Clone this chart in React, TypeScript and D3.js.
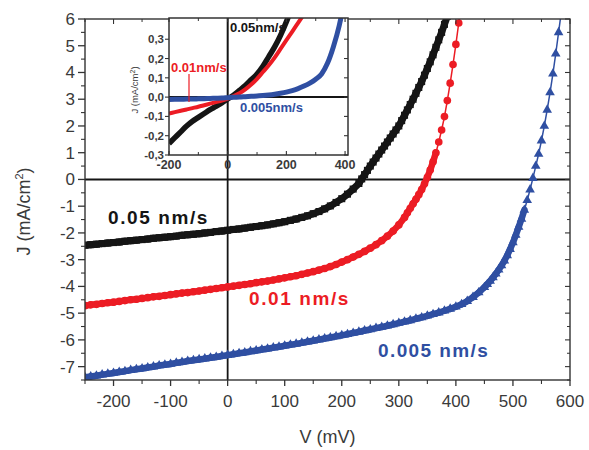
import React from 'react';
import * as d3 from 'd3';

const W = 589;
const H = 450;

// ---------- main plot data (V in mV, J in mA/cm2) ----------
const V_BLACK = [-250,-240,-230,-220,-210,-200,-190,-180,-170,-160,-150,-140,-130,-120,-110,-100,-90,-80,-70,-60,-50,-40,-30,-20,-10,0,10,20,30,40,50,60,70,80,90,100,110,120,130,140,150,160,170,180,190,200,210,220,230,
  235,240,245,250,255,260,265,270,275,280,285,290,295,300,305,310,315,320,325,330,335,340,345,350,355,360,365,370,375,380,385];
const J_BLACK = [-2.46,-2.44,-2.42,-2.40,-2.38,-2.36,-2.34,-2.31,-2.29,-2.27,-2.25,-2.23,-2.20,-2.18,-2.16,-2.14,-2.12,-2.09,-2.07,-2.05,-2.03,-2.00,-1.98,-1.95,-1.93,-1.90,-1.87,-1.85,-1.82,-1.79,-1.76,-1.73,-1.70,-1.66,-1.62,-1.58,-1.53,-1.48,-1.42,-1.36,-1.28,-1.20,-1.10,-0.99,-0.86,-0.72,-0.55,-0.36,-0.15,
  0.02,0.18,0.34,0.5,0.65,0.8,0.95,1.1,1.25,1.4,1.55,1.7,1.85,2.0,2.2,2.4,2.6,2.8,3.0,3.22,3.44,3.66,3.9,4.15,4.4,4.66,4.94,5.22,5.5,5.8,6.1];

const V_RED = [-250,-240,-230,-220,-210,-200,-190,-180,-170,-160,-150,-140,-130,-120,-110,-100,-90,-80,-70,-60,-50,-40,-30,-20,-10,0,10,20,30,40,50,60,70,80,90,100,110,120,130,140,150,160,170,180,190,200,210,220,230,240,250,260,270,280,290,300,310,
  315,320,325,330,335,340,345,350,355,360,365,370,375,380,385,390,395,400,405,410];
const J_RED = [-4.72,-4.69,-4.67,-4.64,-4.61,-4.59,-4.56,-4.53,-4.50,-4.48,-4.45,-4.42,-4.39,-4.37,-4.34,-4.31,-4.28,-4.25,-4.23,-4.20,-4.17,-4.14,-4.11,-4.08,-4.05,-4.02,-3.99,-3.96,-3.93,-3.90,-3.86,-3.83,-3.80,-3.76,-3.72,-3.68,-3.64,-3.60,-3.55,-3.50,-3.45,-3.39,-3.33,-3.26,-3.18,-3.09,-3.00,-2.90,-2.80,-2.69,-2.57,-2.44,-2.29,-2.12,-1.93,-1.70,-1.42,
  -1.25,-1.08,-0.91,-0.74,-0.57,-0.38,-0.16,0.08,0.35,0.66,1.0,1.4,1.85,2.35,2.95,3.6,4.3,5.05,5.85,6.7];

const V_BLUE = [-250,-240,-230,-220,-210,-200,-190,-180,-170,-160,-150,-140,-130,-120,-110,-100,-90,-80,-70,-60,-50,-40,-30,-20,-10,0,10,20,30,40,50,60,70,80,90,100,110,120,130,140,150,160,170,180,190,200,210,220,230,240,250,260,270,280,290,300,310,320,330,340,350,360,370,380,390,400,410,420,430,440,450,
  455,460,465,470,475,480,485,490,495,500,505,510,515,520,525,530,535,540,545,550,555,560,565,570,575,580,585];
const J_BLUE = [-7.40,-7.37,-7.34,-7.30,-7.27,-7.24,-7.20,-7.17,-7.13,-7.10,-7.07,-7.03,-7.00,-6.96,-6.93,-6.90,-6.86,-6.83,-6.79,-6.76,-6.73,-6.70,-6.67,-6.64,-6.60,-6.57,-6.54,-6.50,-6.47,-6.43,-6.40,-6.36,-6.33,-6.29,-6.26,-6.22,-6.18,-6.15,-6.11,-6.07,-6.03,-5.99,-5.95,-5.91,-5.87,-5.83,-5.79,-5.74,-5.70,-5.65,-5.61,-5.56,-5.52,-5.47,-5.42,-5.37,-5.32,-5.27,-5.21,-5.16,-5.10,-5.04,-4.98,-4.91,-4.84,-4.76,-4.67,-4.55,-4.40,-4.23,-4.03,
  -3.92,-3.80,-3.67,-3.53,-3.38,-3.22,-3.04,-2.84,-2.61,-2.36,-2.08,-1.78,-1.48,-1.14,-0.78,-0.38,0.05,0.5,0.95,1.45,2.0,2.6,3.25,3.95,4.7,5.5,6.3];

const X_TICKS = [-200,-100,0,100,200,300,400,500,600];
const X_MINOR = [-250,-150,-50,50,150,250,350,450,550];
const Y_TICKS = [-7,-6,-5,-4,-3,-2,-1,0,1,2,3,4,5,6];
const Y_MINOR = [-7.5,-6.5,-5.5,-4.5,-3.5,-2.5,-1.5,-0.5,0.5,1.5,2.5,3.5,4.5,5.5];

// ---------- inset data ----------
const IV_BLACK = [-200,-180,-160,-140,-120,-100,-80,-60,-40,-20,0,20,40,60,80,100,120,140,160,180,200,210];
const IJ_BLACK = [-0.24,-0.21,-0.18,-0.15,-0.125,-0.105,-0.085,-0.065,-0.048,-0.03,-0.01,0.01,0.035,0.06,0.09,0.12,0.16,0.21,0.26,0.32,0.39,0.43];
const IV_RED = [-200,-180,-160,-140,-120,-100,-80,-60,-40,-20,0,20,40,60,80,100,120,140,160,180,200,220,240,260];
const IJ_RED = [-0.085,-0.078,-0.071,-0.064,-0.057,-0.05,-0.042,-0.034,-0.026,-0.018,-0.008,0.005,0.02,0.04,0.065,0.095,0.13,0.165,0.205,0.25,0.295,0.34,0.385,0.43];
const IV_BLUE = [-200,-180,-160,-140,-120,-100,-80,-60,-40,-20,0,20,40,60,80,100,120,140,160,180,200,220,240,260,280,300,320,340,360,380,390];
const IJ_BLUE = [-0.012,-0.011,-0.011,-0.01,-0.01,-0.009,-0.008,-0.007,-0.006,-0.005,-0.003,-0.001,0.0,0.002,0.004,0.006,0.008,0.011,0.015,0.02,0.026,0.034,0.044,0.057,0.073,0.093,0.12,0.175,0.26,0.37,0.44];
const IX_TICKS = [-200,0,200,400];
const IX_MINOR = [-100,100,300];
const IY_TICKS = [-0.3,-0.2,-0.1,0,0.1,0.2,0.3];

const BLACK = '#151515';
const RED = '#ec1c24';
const BLUE = '#2f4fa2';
const FONT = 'Liberation Sans, Arial, Helvetica, sans-serif';
const TXT = '#3a3a3a';

function zip(v: number[], j: number[]) {
  return v.map((d, i) => [d, j[i]] as [number, number]);
}

export default function App() {
  const x = d3.scaleLinear().domain([-250, 600]).range([85, 570]);
  const y = d3.scaleLinear().domain([-7.5, 6]).range([380, 19]);
  const ix = d3.scaleLinear().domain([-200, 410]).range([169, 348]);
  const iy = d3.scaleLinear().domain([-0.3, 0.41]).range([155, 18]);

  const iline = d3.line<[number, number]>().x(d => ix(d[0])).y(d => iy(d[1])).curve(d3.curveMonotoneX);

  const sq = d3.symbol(d3.symbolSquare, 50)()!;
  const ci = d3.symbol(d3.symbolCircle, 46)()!;
  const tr = d3.symbol(d3.symbolTriangle, 40)()!;

  const series = [
    { data: zip(V_BLACK, J_BLACK), color: BLACK, sym: sq, thick: 7, thin: 3 },
    { data: zip(V_RED, J_RED), color: RED, sym: ci, thick: 6.5, thin: 1.5 },
    { data: zip(V_BLUE, J_BLUE), color: BLUE, sym: tr, thick: 6.5, thin: 1.5 },
  ];
  const iseries = [
    { data: zip(IV_BLACK, IJ_BLACK), color: BLACK, w: 5.5 },
    { data: zip(IV_RED, IJ_RED), color: RED, w: 4 },
    { data: zip(IV_BLUE, IJ_BLUE), color: BLUE, w: 5 },
  ];

  const [x0, x1] = x.range();
  const [yb, yt] = y.range();
  const [ix0, ix1] = ix.range();
  const [iyb, iyt] = iy.range();

  return (
    <svg width={W} height={H} style={{ position: 'absolute', left: 0, top: 0, background: '#fff' }} fontFamily={FONT}>
      <defs>
        <clipPath id="mainClip"><rect x={x0} y={yt} width={x1 - x0} height={yb - yt} /></clipPath>
        <clipPath id="insetClip"><rect x={ix0} y={iyt} width={ix1 - ix0} height={iyb - iyt} /></clipPath>
      </defs>
      <rect width={W} height={H} fill="#fff" />

      {/* zero lines */}
      <line x1={x0} x2={x1} y1={y(0)} y2={y(0)} stroke={BLACK} strokeWidth={2} />
      <line x1={x(0)} x2={x(0)} y1={yt} y2={yb} stroke={BLACK} strokeWidth={1.8} />

      {/* series */}
      <g clipPath="url(#mainClip)">
        {series.map((s, k) => (
          <g key={k}>
            {s.data.slice(1).map((d, i) => {
              const p = s.data[i];
              const ax = x(p[0]), ay = y(p[1]), bx = x(d[0]), by = y(d[1]);
              const dist = Math.hypot(bx - ax, by - ay);
              return (
                <line key={'s' + i} x1={ax} y1={ay} x2={bx} y2={by} stroke={s.color}
                  strokeWidth={dist < 10 ? s.thick : s.thin} strokeLinecap="round" />
              );
            })}
            {s.data.map((d, i) => (
              <path key={i} d={s.sym} transform={`translate(${x(d[0])},${y(d[1])})`} fill={s.color} />
            ))}
          </g>
        ))}
      </g>

      {/* frame */}
      <rect x={x0} y={yt} width={x1 - x0} height={yb - yt} fill="none" stroke="#333" strokeWidth={1.4} />

      {/* bottom axis ticks */}
      {X_TICKS.map(t => (
        <g key={'xt' + t}>
          <line x1={x(t)} x2={x(t)} y1={yb} y2={yb + 6} stroke="#333" strokeWidth={1.3} />
          <line x1={x(t)} x2={x(t)} y1={yt} y2={yt + 5} stroke="#333" strokeWidth={1.1} />
          <text x={x(t)} y={yb + 27} textAnchor="middle" fontSize={17} fill={TXT}>{String(t)}</text>
        </g>
      ))}
      {X_MINOR.map(t => (
        <g key={'xm' + t}>
          <line x1={x(t)} x2={x(t)} y1={yb} y2={yb + 4} stroke="#333" strokeWidth={1.1} />
          <line x1={x(t)} x2={x(t)} y1={yt} y2={yt + 3} stroke="#333" strokeWidth={1} />
        </g>
      ))}
      {/* left axis ticks */}
      {Y_TICKS.map(t => (
        <g key={'yt' + t}>
          <line x1={x0 - 7} x2={x0} y1={y(t)} y2={y(t)} stroke="#333" strokeWidth={1.3} />
          <line x1={x1 - 5} x2={x1} y1={y(t)} y2={y(t)} stroke="#333" strokeWidth={1.1} />
          <text x={x0 - 10} y={y(t) + 6} textAnchor="end" fontSize={17} fill={TXT}>{String(t)}</text>
        </g>
      ))}
      {Y_MINOR.map(t => (
        <g key={'ym' + t}>
          <line x1={x0 - 4} x2={x0} y1={y(t)} y2={y(t)} stroke="#333" strokeWidth={1.1} />
          <line x1={x1 - 3} x2={x1} y1={y(t)} y2={y(t)} stroke="#333" strokeWidth={1} />
        </g>
      ))}

      {/* axis titles */}
      <text x={(x0 + x1) / 2} y={443} textAnchor="middle" fontSize={18} fill={TXT}>V (mV)</text>
      <text transform={`translate(30,${(yt + yb) / 2 + 12}) rotate(-90)`} textAnchor="middle" fontSize={18} fill={TXT}>
        J (mA/cm<tspan dy={-7} fontSize={11}>2</tspan><tspan dy={7}>)</tspan>
      </text>

      {/* series labels */}
      <text x={108} y={224} fontSize={19} fontWeight="bold" letterSpacing={1.6} fill={BLACK}>0.05 nm/s</text>
      <text x={249} y={305} fontSize={19} fontWeight="bold" letterSpacing={1.6} fill={RED}>0.01 nm/s</text>
      <text x={378} y={357} fontSize={19} fontWeight="bold" letterSpacing={1.4} fill={BLUE}>0.005 nm/s</text>

      {/* ---------- inset ---------- */}
      <rect x={ix0} y={iyt} width={ix1 - ix0} height={iyb - iyt} fill="#fff" />
      <line x1={ix0} x2={ix1} y1={iy(0)} y2={iy(0)} stroke={BLACK} strokeWidth={2} />
      <line x1={ix(0)} x2={ix(0)} y1={iyt} y2={iyb} stroke={BLACK} strokeWidth={2} />
      <g clipPath="url(#insetClip)">
        {iseries.map((s, k) => (
          <path key={k} d={iline(s.data)!} fill="none" stroke={s.color} strokeWidth={s.w} />
        ))}
      </g>
      <rect x={ix0} y={iyt} width={ix1 - ix0} height={iyb - iyt} fill="none" stroke="#333" strokeWidth={1.5} />
      {IX_TICKS.map(t => (
        <g key={'ixt' + t}>
          <line x1={ix(t)} x2={ix(t)} y1={iyb} y2={iyb - 4} stroke="#333" strokeWidth={1.1} />
          <line x1={ix(t)} x2={ix(t)} y1={iyt} y2={iyt + 4} stroke="#333" strokeWidth={1.1} />
          <text x={ix(t)} y={iyb + 14} textAnchor="middle" fontSize={12.5} fontWeight="bold" fill={TXT}>{String(t)}</text>
        </g>
      ))}
      {IX_MINOR.map(t => (
        <g key={'ixm' + t}>
          <line x1={ix(t)} x2={ix(t)} y1={iyb} y2={iyb - 3} stroke="#333" strokeWidth={1} />
          <line x1={ix(t)} x2={ix(t)} y1={iyt} y2={iyt + 3} stroke="#333" strokeWidth={1} />
        </g>
      ))}
      {IY_TICKS.map(t => (
        <g key={'iyt' + t}>
          <line x1={ix0 - 4} x2={ix0} y1={iy(t)} y2={iy(t)} stroke="#333" strokeWidth={1.1} />
          <line x1={ix1 - 4} x2={ix1} y1={iy(t)} y2={iy(t)} stroke="#333" strokeWidth={1.1} />
          <text x={ix0 - 5} y={iy(t) + 4} textAnchor="end" fontSize={11.5} fontWeight="bold" fill={TXT}>
            {d3.format('.1f')(t).replace('.', ',').replace('−', '-')}
          </text>
        </g>
      ))}
      <text transform={`translate(138,90) rotate(-90)`} textAnchor="middle" fontSize={9.5} fill={TXT}>
        J (mA/cm<tspan dy={-3} fontSize={7}>2</tspan><tspan dy={3}>)</tspan>
      </text>
      <text x={230} y={32} fontSize={13} fontWeight="bold" fill={BLACK}>0.05nm/s</text>
      <text x={171} y={72} fontSize={13} fontWeight="bold" fill={RED}>0.01nm/s</text>
      <line x1={189} x2={189} y1={74} y2={102} stroke={RED} strokeWidth={1.2} />
      <text x={240} y={112} fontSize={13} fontWeight="bold" fill={BLUE}>0.005nm/s</text>
    </svg>
  );
}
